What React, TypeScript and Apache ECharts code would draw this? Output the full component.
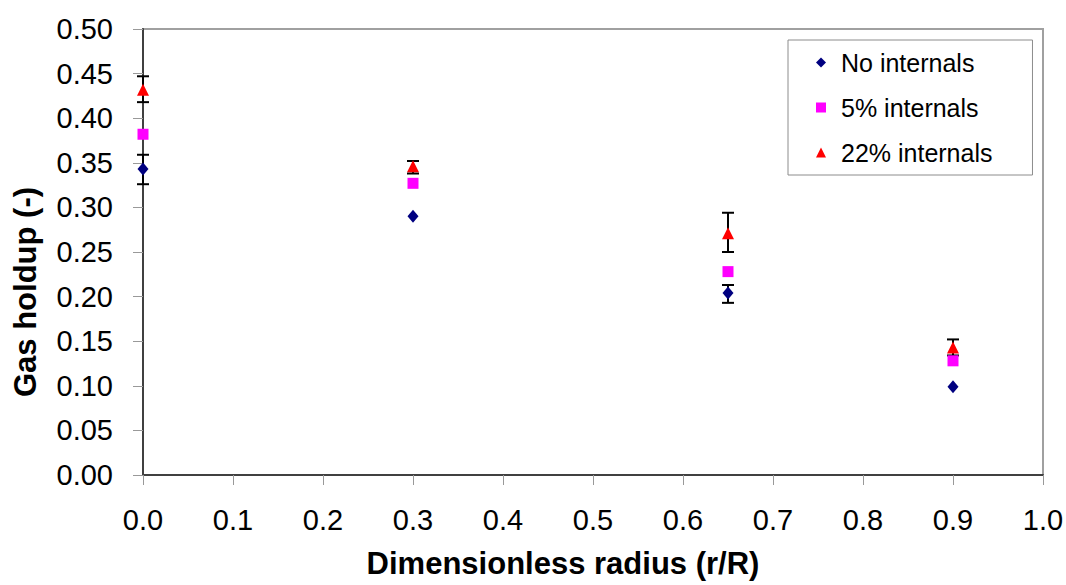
import React, { useEffect, useRef } from "react";
import * as echarts from "echarts";

const xTicks = [0, 0.1, 0.2, 0.3, 0.4, 0.5, 0.6, 0.7, 0.8, 0.9, 1.0];
const radius = [0, 0.3, 0.65, 0.9];
const noInternals = [0.343, 0.29, 0.204, 0.099];
const fiveInternals = [0.382, 0.327, 0.228, 0.128];
const twentyTwoInternals = [0.432, 0.346, 0.271, 0.143];
// error bars: [x, low, high]
const noInternalsErr = [
  [0, 0.326, 0.359],
  [0.65, 0.193, 0.213],
];
const twentyTwoErr = [
  [0, 0.418, 0.447],
  [0.3, 0.338, 0.352],
  [0.65, 0.25, 0.294],
  [0.9, 0.134, 0.152],
];

const FONT = "'Liberation Sans', Arial, sans-serif";

export default function App() {
  const ref = useRef<HTMLDivElement>(null);
  useEffect(() => {
    if (!ref.current) return;
    const chart = echarts.init(ref.current, null, { renderer: "svg" });
    const errRender = (params: any, api: any) => {
      const x = api.value(0);
      const lo = api.coord([x, api.value(1)]);
      const hi = api.coord([x, api.value(2)]);
      const w = 6;
      const st = { stroke: "#000", lineWidth: 2 };
      return {
        type: "group",
        children: [
          { type: "line", shape: { x1: lo[0], y1: lo[1], x2: hi[0], y2: hi[1] }, style: st },
          { type: "line", shape: { x1: lo[0] - w, y1: lo[1], x2: lo[0] + w, y2: lo[1] }, style: st },
          { type: "line", shape: { x1: hi[0] - w, y1: hi[1], x2: hi[0] + w, y2: hi[1] }, style: st },
        ],
      };
    };
    chart.setOption({
      animation: false,
      backgroundColor: "#fff",
      grid: {
        left: 143,
        right: 23,
        top: 29,
        bottom: 110,
        show: true,
        borderColor: "#a0a0a0",
        borderWidth: 2,
        outerBoundsMode: "none",
      },
      legend: {
        orient: "vertical",
        left: 788,
        top: 40,
        padding: [8, 40, 8, 28],
        itemGap: 16,
        itemWidth: 10,
        itemHeight: 10,
        borderColor: "#8c8c8c",
        borderWidth: 1,
        backgroundColor: "#fff",
        textStyle: { fontSize: 25, fontFamily: FONT, color: "#000", lineHeight: 29, padding: [0, 0, 0, 10] },
        data: ["No internals", "5% internals", "22% internals"],
      },
      xAxis: {
        type: "value",
        min: 0,
        max: 1,
        interval: 0.1,
        axisLine: { show: true, onZero: false, lineStyle: { color: "#404040", width: 2 } },
        axisTick: { show: true, length: 10, lineStyle: { color: "#999", width: 1 } },
        splitLine: { show: false },
        axisLabel: {
          margin: 30,
          fontSize: 29,
          fontFamily: FONT,
          color: "#000",
          formatter: (v: number) => v.toFixed(1),
        },
      },
      yAxis: {
        type: "value",
        min: 0,
        max: 0.5,
        interval: 0.05,
        axisLine: { show: true, onZero: false, lineStyle: { color: "#404040", width: 2 } },
        axisTick: { show: true, length: 10, lineStyle: { color: "#999", width: 1 } },
        splitLine: { show: false },
        axisLabel: {
          margin: 30,
          fontSize: 29,
          fontFamily: FONT,
          color: "#000",
          formatter: (v: number) => v.toFixed(2),
        },
      },
      graphic: [
        {
          type: "text",
          x: 563,
          y: 563,
          style: {
            text: "Dimensionless radius (r/R)",
            font: `bold 31px ${FONT}`,
            fill: "#000",
            align: "center",
            verticalAlign: "middle",
          },
        },
        {
          type: "text",
          x: 25,
          y: 292,
          rotation: Math.PI / 2,
          style: {
            text: "Gas holdup (-)",
            font: `bold 31px ${FONT}`,
            fill: "#000",
            align: "center",
            verticalAlign: "middle",
          },
        },
      ],
      series: [
        {
          type: "custom",
          name: "errNo",
          renderItem: errRender,
          data: noInternalsErr,
          encode: { x: 0, y: [1, 2] },
          z: 1,
          silent: true,
          clip: false,
        },
        {
          type: "custom",
          name: "err22",
          renderItem: errRender,
          data: twentyTwoErr,
          encode: { x: 0, y: [1, 2] },
          z: 1,
          silent: true,
          clip: false,
        },
        {
          type: "scatter",
          name: "No internals",
          symbol: "diamond",
          symbolSize: [11, 13],
          itemStyle: { color: "#000080", opacity: 1 },
          data: radius.map((r, i) => [r, noInternals[i]]),
          z: 3,
          clip: false,
        },
        {
          type: "scatter",
          name: "5% internals",
          symbol: "rect",
          symbolSize: 11,
          itemStyle: { color: "#ff00ff", opacity: 1 },
          data: radius.map((r, i) => [r, fiveInternals[i]]),
          z: 3,
          clip: false,
        },
        {
          type: "scatter",
          name: "22% internals",
          symbol: "triangle",
          symbolSize: [12, 12],
          itemStyle: { color: "#ff0000", opacity: 1 },
          data: radius.map((r, i) => [r, twentyTwoInternals[i]]),
          z: 3,
          clip: false,
        },
      ],
    });
    return () => chart.dispose();
  }, []);
  return (
    <div
      ref={ref}
      style={{ position: "fixed", left: 0, top: 0, width: 1066, height: 585 }}
      data-ticks={xTicks.length}
    />
  );
}
